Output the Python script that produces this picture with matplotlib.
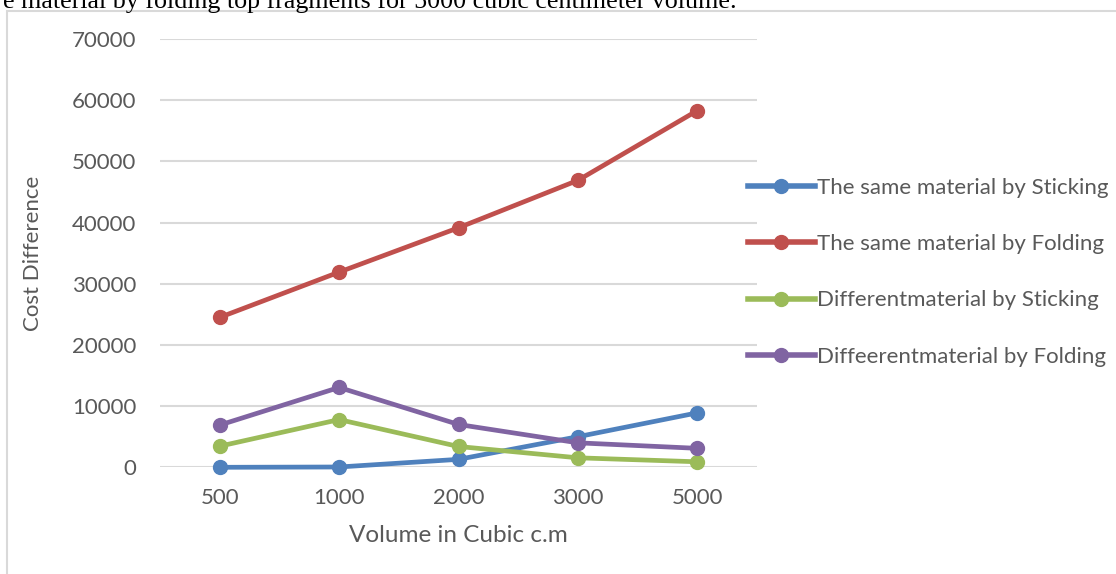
import matplotlib.pyplot as plt
from matplotlib.lines import Line2D
from matplotlib.patches import Rectangle

volumes = ["500", "1000", "2000", "3000", "5000"]
same_sticking = [0, 50, 1300, 5000, 8900]
same_folding = [24500, 31900, 39150, 46900, 58300]
diff_sticking = [3450, 7800, 3400, 1550, 900]
diff_folding = [6900, 13050, 7000, 4000, 3100]

labels = ["The same material by Sticking", "The same material by Folding",
          "Differentmaterial by Sticking", "Diffeerentmaterial by Folding"]
colors = ["#4f81bd", "#c0504d", "#9bbb59", "#8064a2"]

W, H = 1116, 574
fig = plt.figure(figsize=(W / 100, H / 100), dpi=100)
plt.rcParams['font.family'] = ['Lato', 'DejaVu Sans']
text_col = "#595959"

# caption line left over from the page above the chart
fig.text(737 / W, (H - 8) / H,
         "e material by folding top fragments for 5000 cubic centimeter volume.",
         family="Liberation Serif", fontsize=18.7, ha="right", va="baseline", color="black")

# chart frame
fig.patches.append(Rectangle((7 / W, -0.1), 1.2, (H - 11) / H + 0.1,
                             transform=fig.transFigure, fill=False,
                             edgecolor="#d9d9d9", linewidth=1.5))

ax = fig.add_axes([160 / W, (H - 467.3) / H, 597 / W, 428.3 / H])
x = range(len(volumes))
for ys, c, lab in zip([same_sticking, same_folding, diff_sticking, diff_folding], colors, labels):
    ax.plot(x, ys, color=c, linewidth=3.4, marker="o", markersize=10, label=lab,
            solid_capstyle="round", clip_on=False, zorder=3)

ax.set_xlim(-0.5, 4.5)
ax.set_ylim(0, 70000)
ax.set_yticks(range(0, 70001, 10000))
ax.set_xticks(list(x))
ax.set_xticklabels(volumes)
ax.grid(axis="y", color="#d9d9d9", linewidth=1.5)
ax.set_axisbelow(True)
for s in ax.spines.values():
    s.set_visible(False)
ax.tick_params(length=0, labelsize=16, labelcolor=text_col)
ax.tick_params(axis="y", pad=17)
ax.tick_params(axis="x", pad=15)

ax.set_ylabel("Cost Difference", fontsize=16, color=text_col, labelpad=21)
ax.set_xlabel("Volume in Cubic c.m", fontsize=17.5, color=text_col, labelpad=12)

handles = [Line2D([], [], color=c, linewidth=4, marker="o", markersize=10) for c in colors]
fig.legend(handles, labels, loc="upper left", bbox_to_anchor=(748 / W, (H - 178) / H),
           frameon=False, fontsize=16, labelcolor=text_col, handlelength=3.0,
           handletextpad=0.1, labelspacing=1.63, borderpad=0, borderaxespad=0)

fig.savefig("out.png", dpi=100)
